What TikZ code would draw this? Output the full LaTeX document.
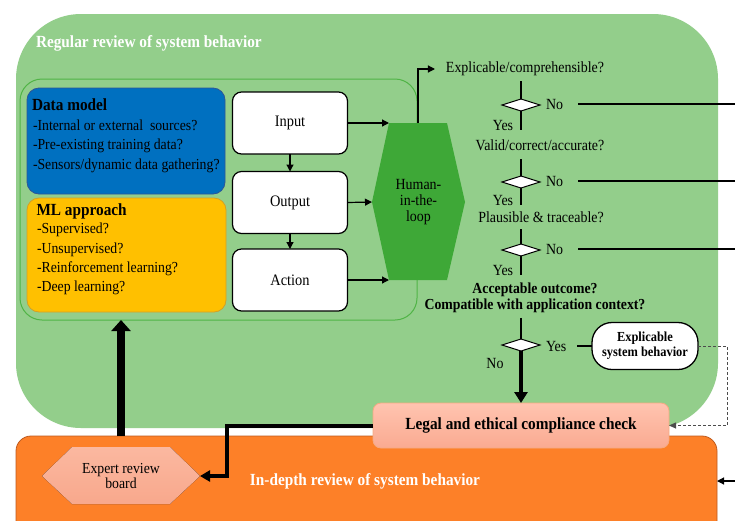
\documentclass[tikz,border=0pt]{standalone}
\usepackage{fontspec}
\setmainfont[FakeStretch=0.9]{Liberation Serif}
\usetikzlibrary{arrows.meta,shapes.geometric}
\definecolor{bggreen}{RGB}{147,206,139}
\definecolor{linegreen}{RGB}{80,180,70}
\definecolor{hitlgreen}{RGB}{62,168,55}
\definecolor{dmblue}{RGB}{0,112,192}
\definecolor{dmblueline}{RGB}{47,85,151}
\definecolor{mlyellow}{RGB}{255,192,0}
\definecolor{mlyellowline}{RGB}{210,160,40}
\definecolor{legaltop}{RGB}{255,196,176}
\definecolor{legalfill}{RGB}{250,170,145}
\definecolor{legalline}{RGB}{245,170,130}
\definecolor{orangebox}{RGB}{253,128,40}
\definecolor{orangeline}{RGB}{190,90,30}
\definecolor{expertTop}{RGB}{251,184,160}
\definecolor{expertBot}{RGB}{248,168,140}
\begin{document}
\begin{tikzpicture}[x=1pt,y=-1pt,
  every node/.style={inner sep=0pt, outer sep=0pt, font=\fontsize{15.5}{16}\selectfont},
  ln/.style={line width=1.2pt, draw=black},
  arr/.style={line width=1.2pt, -{Triangle[length=7pt,width=7pt]}},
  nline/.style={line width=2pt},
  iobox/.style={draw=black, line width=1.2pt, fill=white, rounded corners=9pt, minimum width=115pt, minimum height=62pt, font=\fontsize{16}{16}\selectfont},
  dec/.style={diamond, draw=black, line width=1pt, fill=white, minimum width=38pt, minimum height=12pt},
  qtext/.style={text height=11pt, text depth=3.5pt},
  dtext/.style={anchor=base west, font=\fontsize{15.3}{16}\selectfont},
  dhead/.style={anchor=base west, font=\fontsize{17}{18}\selectfont\bfseries},
]
\fill[white] (0,0) rectangle (735,520);
\useasboundingbox (0,0) rectangle (735,520);

% regular review region
\node[fill=bggreen, rounded corners=65pt, minimum width=702pt, minimum height=414pt] (regular) at (367,221) {};
\node[anchor=west, text=white, font=\fontsize{17}{18}\selectfont\bfseries] (regtitle) at (36,43) {Regular review of system behavior};
\node[draw=linegreen, line width=1pt, rounded corners=22pt, minimum width=397pt, minimum height=241pt] (inner) at (218.5,199.5) {};

% data model
\node[fill=dmblue, draw=dmblueline, line width=0.8pt, rounded corners=12pt, minimum width=198pt, minimum height=106pt] (dm) at (126,141) {};
\node[dhead] (dmh) at (32,110) {Data model};
\node[dtext] (dm1) at (33,130) {-Internal or external\ \ sources?};
\node[dtext] (dm2) at (33,149.5) {-Pre-existing training data?};
\node[dtext] (dm3) at (33,169) {-Sensors/dynamic data gathering?};

% ML approach
\node[fill=mlyellow, draw=mlyellowline, line width=0.8pt, rounded corners=12pt, minimum width=199pt, minimum height=114pt] (ml) at (126.5,255) {};
\node[dhead] (mlh) at (36.5,215) {ML approach};
\node[dtext] (ml1) at (37,233.5) {-Supervised?};
\node[dtext] (ml2) at (37,253) {-Unsupervised?};
\node[dtext] (ml3) at (37,272) {-Reinforcement learning?};
\node[dtext] (ml4) at (37,291) {-Deep learning?};

% input/output/action
\node[iobox] (input) at (290,123) {Input};
\node[iobox] (output) at (290,202.5) {Output};
\node[iobox] (action) at (290,280) {Action};

% human in the loop
\fill[hitlgreen] (372,202) -- (389,123) -- (447,123) -- (465,202) -- (447,280) -- (389,280) -- cycle;
\node[align=center, minimum width=93pt, minimum height=157pt] (hitl) at (418.5,202) {Human-\\in-the-\\loop};
\coordinate (hitlTL) at (389,123);
\coordinate (hitlBL) at (389,280);
\coordinate (hitlT) at (418,123);

% questions
\node[qtext] (q1) at (525,69) {Explicable/comprehensible?};
\node[dec] (d1) at (521,105) {};
\node[anchor=west] (no1) at (546,104) {No};
\node (yes1) at (503,125) {Yes};
\coordinate (e1) at (735,104);

\node[qtext] (q2) at (540,147) {Valid/correct/accurate?};
\node[dec] (d2) at (521,182) {};
\node[anchor=west] (no2) at (546,181) {No};
\node (yes2) at (503,200) {Yes};
\coordinate (e2) at (735,181);

\node[qtext] (q3) at (541,219) {Plausible \& traceable?};
\node[dec] (d3) at (521,250) {};
\node[anchor=west] (no3) at (546,249) {No};
\node (yes3) at (503,270) {Yes};
\coordinate (e3) at (735,249);

\node[align=center, font=\fontsize{15.3}{16}\selectfont\bfseries] (q4) at (535,298) {Acceptable outcome?\\Compatible with application context?};
\node[dec] (d4) at (521,345) {};
\node[anchor=west] (yes4) at (546,346) {Yes};
\node (no4) at (495,363) {No};
\node[draw, line width=1.3pt, fill=white, rounded corners=20pt, minimum width=106pt, minimum height=47pt, align=center, font=\fontsize{13.8}{15}\selectfont\bfseries] (expl) at (645,346) {Explicable\\system behavior};

% in-depth region
\node[fill=orangebox, draw=orangeline, line width=0.8pt, rounded corners=15pt, minimum width=701pt, minimum height=100pt] (indepthbox) at (366.5,486) {};
\node[text=white, font=\fontsize{17}{18}\selectfont\bfseries] (indepth) at (365,481) {In-depth review of system behavior};
\fill[top color=expertTop, bottom color=expertBot] (42,476) -- (72,447) -- (170,447) -- (200,476) -- (170,504) -- (72,504) -- cycle;
\node[align=center, minimum width=158pt, font=\fontsize{15.3}{15}\selectfont] (expert) at (121,476) {Expert review\\board};

% legal
\node[draw=legalline, line width=0.8pt, top color=legaltop, bottom color=legalfill, rounded corners=8pt, minimum width=296pt, minimum height=45pt, font=\fontsize{17}{18}\selectfont\bfseries] (legal) at (521,425.5) {Legal and ethical compliance check};

% connectors
\draw[arr] (input.south) -- (output.north);
\draw[arr] (output.south) -- (action.north);
\draw[arr] (input.east) -- (hitlTL);
\draw[arr] (output.east) -- (hitl.west);
\draw[arr] (action.east) -- (hitlBL);
\draw[arr] (hitlT) |- ([xshift=-11pt]q1.west);

\draw[ln, shorten <=5pt] (q1.south -| d1) -- (d1.north);
\draw[ln] (d1.south) -- (d1.south |- yes1.south);
\draw[nline, shorten <=15pt] (no1.east) -- (no1.east -| e1);
\draw[ln, shorten <=5pt] (q2.south -| d2) -- (d2.north);
\draw[ln] (d2.south) -- (d2.south |- yes2.south);
\draw[nline, shorten <=15pt] (no2.east) -- (no2.east -| e2);
\draw[ln, shorten <=3pt] (q3.south -| d3) -- (d3.north);
\draw[ln] (d3.south) -- (d3.south |- yes3.south);
\draw[nline, shorten <=15pt] (no3.east) -- (no3.east -| e3);
\draw[ln, shorten <=5pt] (q4.south -| d4) -- (d4.north);
\draw[ln, shorten <=11pt] (yes4.east) -- (expl.west);

\coordinate (dc) at (727,425.5);
\draw[densely dashed, line width=0.8pt, black!70, -{Triangle[length=7pt,width=6pt]}] (expl.east) -| (dc) -- (legal.east);
\draw[line width=4pt, -{Triangle[length=11pt,width=13pt]}] (d4.south) -- (legal.north);

\coordinate (lc) at (227,476);
\draw[line width=4pt, -{Triangle[length=10pt,width=11pt]}] (legal.west) -| (lc) -- (expert.east);
\draw[line width=8pt, -{Triangle[length=11pt,width=19pt]}] (indepthbox.north -| expert) -- (inner.south -| expert);

\coordinate (eo) at (735,481);
\draw[arr] (eo) -- (eo -| indepthbox.east);
\end{tikzpicture}
\end{document}
